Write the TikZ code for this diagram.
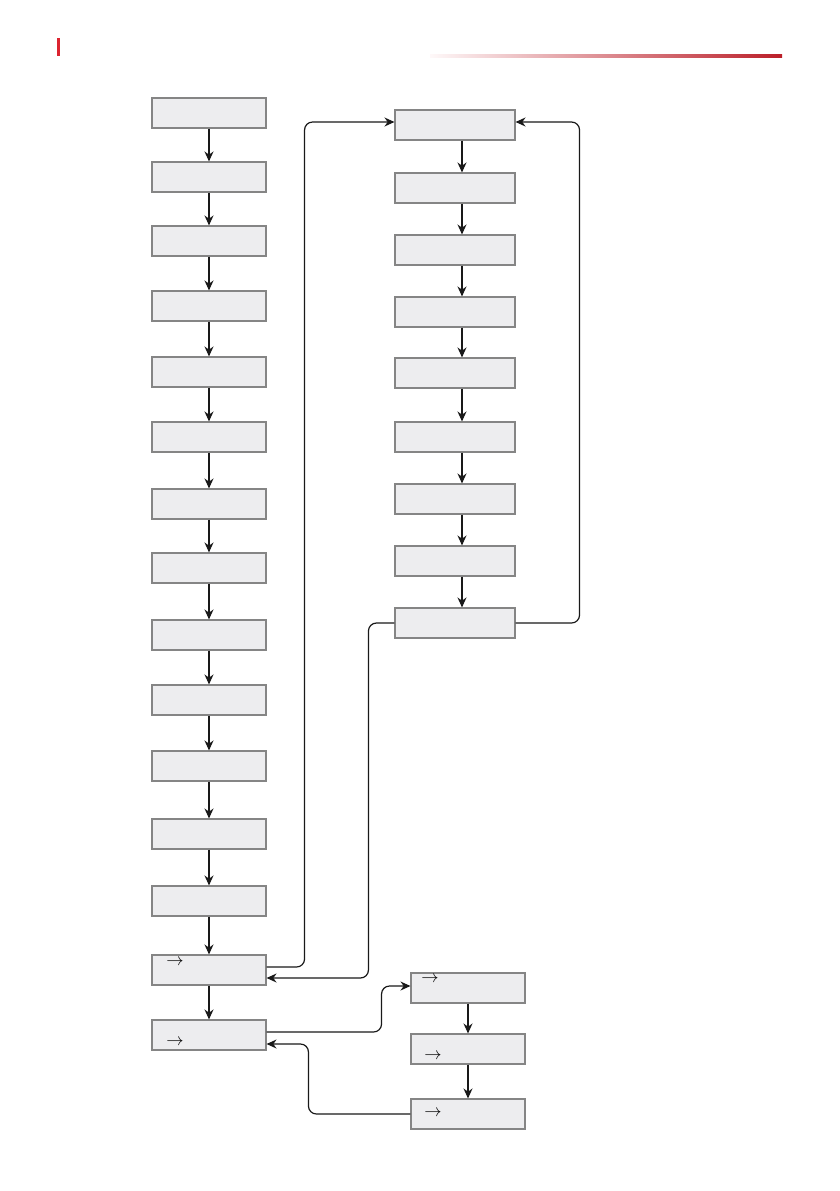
\documentclass[tikz,border=0pt]{standalone}
\usetikzlibrary{arrows.meta}

\definecolor{boxgray}{HTML}{EDEDEF}
\definecolor{edgegray}{HTML}{858585}
\definecolor{brandred}{HTML}{DC2430}

\begin{document}
\begin{tikzpicture}[
    x=1pt, y=-1pt,
    stepbox/.style={
        rectangle, draw=edgegray, fill=boxgray, line width=1.1pt,
        minimum width=114pt, minimum height=30pt
    },
    widebox/.style={stepbox, minimum width=120pt},
    cue/.style={inner sep=0pt, font=\fontsize{16}{16}\selectfont},
    flow/.style={-{Stealth[length=10pt,width=9pt]}, line width=1.2pt, draw=black!90},
    loop/.style={flow, rounded corners=8pt}
]
\useasboundingbox (0,0) rectangle (839,1191);

% Header
\fill[brandred] (57,38) rectangle (60,56);
\shade[left color=brandred!3, right color=brandred!85!black] (430,54) rectangle (782,57);

% Left column
\node[stepbox] (s1) at (209,113) {};
\node[stepbox] (s2) at (209,177) {};
\node[stepbox] (s3) at (209,241) {};
\node[stepbox] (s4) at (209,306) {};
\node[stepbox] (s5) at (209,372) {};
\node[stepbox] (s6) at (209,437) {};
\node[stepbox] (s7) at (209,504) {};
\node[stepbox] (s8) at (209,568) {};
\node[stepbox] (s9) at (209,635) {};
\node[stepbox] (s10) at (209,700) {};
\node[stepbox] (s11) at (209,766) {};
\node[stepbox] (s12) at (209,834) {};
\node[stepbox] (s13) at (209,901) {};
\node[stepbox] (s14) at (209,970) {};
\node[stepbox] (s15) at (209,1035) {};
\node[cue] (c14) at (175,962) {$\rightarrow$};
\node[cue] (c15) at (175,1042) {$\rightarrow$};

% Right column
\node[widebox] (r1) at (455,125) {};
\node[widebox] (r2) at (455,188) {};
\node[widebox] (r3) at (455,250) {};
\node[widebox] (r4) at (455,312) {};
\node[widebox] (r5) at (455,373) {};
\node[widebox] (r6) at (455,437) {};
\node[widebox] (r7) at (455,499) {};
\node[widebox] (r8) at (455,561) {};
\node[widebox] (r9) at (455,623) {};

% Bottom branch
\node[stepbox] (b1) at (468,988) {};
\node[stepbox] (b2) at (468,1049) {};
\node[stepbox] (b3) at (468,1114) {};
\node[cue] (cb1) at (430,979) {$\rightarrow$};
\node[cue] (cb2) at (433,1056) {$\rightarrow$};
\node[cue] (cb3) at (433,1113) {$\rightarrow$};

% Left sequence
\draw[flow] (s1) -- (s2);
\draw[flow] (s2) -- (s3);
\draw[flow] (s3) -- (s4);
\draw[flow] (s4) -- (s5);
\draw[flow] (s5) -- (s6);
\draw[flow] (s6) -- (s7);
\draw[flow] (s7) -- (s8);
\draw[flow] (s8) -- (s9);
\draw[flow] (s9) -- (s10);
\draw[flow] (s10) -- (s11);
\draw[flow] (s11) -- (s12);
\draw[flow] (s12) -- (s13);
\draw[flow] (s13) -- (s14);
\draw[flow] (s14) -- (s15);

% Right sequence
\draw[flow] ([xshift=7pt]r1.south) -- ([xshift=7pt]r2.north);
\draw[flow] ([xshift=7pt]r2.south) -- ([xshift=7pt]r3.north);
\draw[flow] ([xshift=7pt]r3.south) -- ([xshift=7pt]r4.north);
\draw[flow] ([xshift=7pt]r4.south) -- ([xshift=7pt]r5.north);
\draw[flow] ([xshift=7pt]r5.south) -- ([xshift=7pt]r6.north);
\draw[flow] ([xshift=7pt]r6.south) -- ([xshift=7pt]r7.north);
\draw[flow] ([xshift=7pt]r7.south) -- ([xshift=7pt]r8.north);
\draw[flow] ([xshift=7pt]r8.south) -- ([xshift=7pt]r9.north);

% Bottom sequence
\draw[flow] (b1) -- (b2);
\draw[flow] (b2) -- (b3);

% Loops
\draw[loop] ([yshift=3pt]s14.east) -- ++(38,0) |- ([yshift=3pt]r1.west);
\draw[loop] (r9.west) -- ++(-26,0) |- ([yshift=-8pt]s14.east);
\draw[loop] (r9.east) -- ++(64,0) |- ([yshift=3pt]r1.east);
\draw[loop] ([yshift=3pt]s15.east) -- ++(115,0) |- ([yshift=2pt]b1.west);
\draw[loop] (b3.west) -- ++(-102,0) |- ([yshift=-9pt]s15.east);

\end{tikzpicture}
\end{document}
